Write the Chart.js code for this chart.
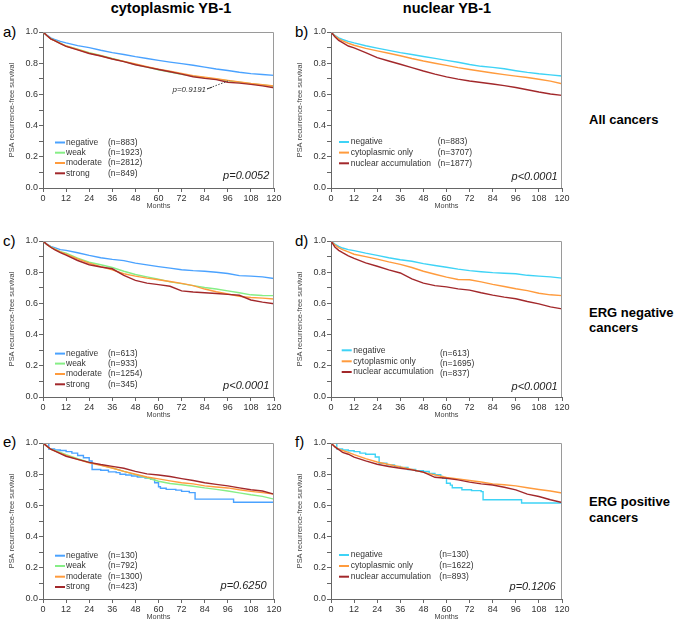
<!DOCTYPE html>
<html><head><meta charset="utf-8">
<script src="https://cdn.jsdelivr.net/npm/chart.js@4.4.1/dist/chart.umd.min.js"></script>
<style>
body{margin:0;width:675px;height:622px;background:#fff;position:relative;overflow:hidden;font-family:"Liberation Sans",Arial,Helvetica,sans-serif;}
canvas{position:absolute;}
.t{position:absolute;white-space:nowrap;color:#000;line-height:1;}
.h{font-weight:bold;font-size:14.5px;width:200px;text-align:center;}
.r{font-weight:bold;font-size:13px;left:589px;}
.l{font-size:15px;}
</style></head><body>
<div class="t h" style="left:71px;top:1px">cytoplasmic YB-1</div>
<div class="t h" style="left:347px;top:1px">nuclear YB-1</div>
<div class="t r" style="top:112.7px">All cancers</div>
<div class="t r" style="top:306.4px">ERG negative</div>
<div class="t r" style="top:320.5px">cancers</div>
<div class="t r" style="top:495.3px">ERG positive</div>
<div class="t r" style="top:510.7px">cancers</div>
<div class="t l" style="left:3px;top:23.5px">a)</div>
<div class="t l" style="left:295px;top:23.5px">b)</div>
<div class="t l" style="left:3px;top:232.5px">c)</div>
<div class="t l" style="left:295px;top:232.5px">d)</div>
<div class="t l" style="left:3px;top:434px">e)</div>
<div class="t l" style="left:295px;top:434px">f)</div>
<canvas id="ca" width="290" height="194" style="left:0;top:20px"></canvas>
<canvas id="cb" width="290" height="194" style="left:288px;top:20px"></canvas>
<canvas id="cc" width="290" height="194" style="left:0;top:229px"></canvas>
<canvas id="cd" width="290" height="194" style="left:288px;top:229px"></canvas>
<canvas id="ce" width="290" height="194" style="left:0;top:431px"></canvas>
<canvas id="cf" width="290" height="194" style="left:288px;top:431px"></canvas>
<script>
// ---------- DATA ----------
const months = [0,2,4,6,9,12,18,24,30,36,42,48,54,60,66,72,78,84,90,96,102,108,114,120];
const xTickLabels = ['0','12','24','36','48','60','72','84','96','108','120'];
const yTickLabels = ['0.0','0.2','0.4','0.6','0.8','1.0'];
const cytoCategories = ['negative','weak','moderate','strong'];
const nucCategories = ['negative','cytoplasmic only','nuclear accumulation'];

// a) all cancers, cytoplasmic YB-1
const aNeg    = [1,.98,.962,.952,.94,.93,.913,.90,.883,.868,.856,.842,.83,.818,.807,.797,.787,.775,.763,.753,.742,.733,.728,.722];
const aWeak   = [1,.978,.957,.947,.928,.91,.89,.868,.85,.83,.812,.792,.775,.758,.743,.728,.717,.707,.698,.688,.678,.668,.66,.652];
const aMod    = [1,.978,.956,.945,.927,.91,.888,.865,.848,.828,.812,.795,.778,.762,.748,.735,.72,.71,.70,.69,.68,.67,.662,.654];
const aStrong = [1,.978,.956,.944,.925,.908,.885,.862,.846,.827,.81,.79,.775,.76,.745,.73,.713,.703,.695,.678,.672,.664,.655,.643];
const aN = [883,1923,2812,849];
const aP = 'p=0.0052';
const aNote = 'p=0.9191';

// b) all cancers, nuclear YB-1
const bNeg  = [1,.978,.963,.952,.94,.93,.912,.897,.882,.868,.856,.843,.831,.818,.806,.792,.78,.773,.764,.752,.741,.732,.725,.718];
const bCyto = [1,.975,.956,.943,.928,.915,.895,.879,.864,.848,.83,.814,.80,.786,.772,.76,.748,.737,.727,.717,.708,.697,.685,.668];
const bNuc  = [1,.97,.946,.932,.91,.898,.868,.836,.814,.793,.772,.75,.73,.712,.698,.686,.676,.667,.656,.644,.63,.615,.603,.594];
const bN = [883,3707,1877];
const bP = 'p<0.0001';

// c) ERG negative, cytoplasmic YB-1
const cNeg    = [1,.98,.965,.958,.945,.94,.925,.908,.893,.882,.874,.858,.847,.836,.826,.816,.81,.806,.80,.792,.778,.775,.77,.76];
const cWeak   = [1,.978,.962,.95,.932,.922,.89,.864,.848,.83,.806,.785,.77,.755,.738,.727,.714,.702,.692,.68,.668,.655,.651,.65];
const cMod    = [1,.978,.96,.948,.93,.915,.885,.858,.836,.815,.79,.775,.762,.752,.74,.728,.714,.692,.675,.66,.645,.638,.634,.628];
const cStrong = [1,.978,.96,.945,.925,.91,.875,.848,.833,.822,.78,.748,.73,.72,.71,.68,.673,.668,.663,.658,.652,.622,.608,.598];
const cN = [613,933,1254,345];
const cP = 'p<0.0001';

// d) ERG negative, nuclear YB-1
const dNeg  = [1,.98,.966,.955,.945,.938,.922,.908,.893,.88,.87,.855,.843,.832,.82,.81,.803,.797,.793,.79,.78,.775,.77,.762];
const dCyto = [1,.975,.958,.945,.93,.915,.90,.884,.866,.85,.83,.806,.787,.768,.753,.752,.738,.722,.708,.694,.682,.665,.655,.65];
const dNuc  = [1,.962,.94,.925,.905,.888,.86,.838,.815,.795,.757,.73,.714,.706,.693,.685,.668,.653,.64,.63,.612,.597,.578,.565];
const dN = [613,1695,837];
const dP = 'p<0.0001';

// e) ERG positive, cytoplasmic YB-1 (negative group: event times)
const eNegMonths = [0,3,6,9,12,15,18,21,24,25.5,30,34,38,40,43,46,49,53,56,58,60,61,64,69,72,76,79,99,120];
const eNegSurv   = [1,.962,.955,.952,.945,.935,.92,.905,.885,.83,.825,.815,.81,.80,.795,.788,.782,.776,.768,.745,.72,.71,.703,.698,.69,.682,.64,.62,.62];
const eWeak   = [1,.98,.96,.952,.94,.925,.90,.876,.858,.84,.818,.797,.777,.755,.74,.732,.723,.712,.703,.692,.68,.668,.658,.64];
const eMod    = [1,.98,.96,.95,.935,.92,.895,.873,.857,.84,.818,.80,.782,.77,.757,.745,.738,.725,.718,.712,.70,.69,.682,.672];
const eStrong = [1,.98,.96,.95,.932,.915,.895,.876,.862,.85,.838,.818,.802,.795,.785,.772,.76,.745,.735,.725,.712,.70,.692,.672];
const eN = [130,792,1300,423];
const eP = 'p=0.6250';

// f) ERG positive, nuclear YB-1 (negative group: event times)
const fNegMonths = [0,3,6,9,12,15,18,23,25,29,33,36,40,44,48,51,54,57,58,60,62,63,68,73,78,79,99,120];
const fNegSurv   = [1,.962,.955,.95,.945,.935,.928,.91,.87,.86,.85,.843,.83,.822,.817,.805,.796,.785,.774,.742,.73,.713,.70,.695,.688,.636,.615,.615];
const fCyto = [1,.978,.96,.952,.94,.925,.90,.878,.862,.847,.83,.812,.796,.779,.77,.76,.75,.738,.732,.725,.713,.702,.692,.679];
const fNuc  = [1,.975,.958,.94,.928,.91,.885,.864,.849,.838,.828,.813,.78,.774,.764,.749,.738,.731,.716,.70,.672,.657,.636,.618];
const fN = [130,1622,893];
const fP = 'p=0.1206';

// ---------- STYLE / LAYOUT ----------
Chart.defaults.font.family = '"Liberation Sans", Arial, Helvetica, sans-serif';
Chart.defaults.color = '#333';
const COL = {blue:'#4aa2ff', cyan:'#3ed3f6', green:'#86ee86', orange:'#ff9b3d', red:'#a2282b'};
const cytoColors = [COL.blue, COL.green, COL.orange, COL.red];
const nucColors = [COL.cyan, COL.orange, COL.red];

function pts(xs, ys){ return xs.map((x,i)=>({x:x, y:ys[i]})); }

const panels = [
 {id:'ca', cats:cytoCategories, colors:cytoColors, series:[pts(months,aNeg),pts(months,aWeak),pts(months,aMod),pts(months,aStrong)], stepped:[false,false,false,false], n:aN, p:aP,
  leg:{line:[12,22], label:23, nx:65, rows:[-45.5,-35.3,-25,-14.7], pRight:-4.7, pY:-12.3},
  note:{text:aNote, x:84.7, y:0.629, toX:97, toY:0.69}},
 {id:'cb', cats:nucCategories, colors:nucColors, series:[pts(months,bNeg),pts(months,bCyto),pts(months,bNuc)], stepped:[false,false,false], n:bN, p:bP,
  leg:{line:[8,18], label:19.7, nx:106.7, rows:[-46,-35.4,-24.7], pRight:-4.3, pY:-11}},
 {id:'cc', cats:cytoCategories, colors:cytoColors, series:[pts(months,cNeg),pts(months,cWeak),pts(months,cMod),pts(months,cStrong)], stepped:[false,false,false,false], n:cN, p:cP,
  leg:{line:[12,22], label:23, nx:65, rows:[-43.4,-33.4,-23,-12.7], pRight:-4.7, pY:-11.4}},
 {id:'cd', cats:nucCategories, colors:nucColors, series:[pts(months,dNeg),pts(months,dCyto),pts(months,dNuc)], stepped:[false,false,false], n:dN, p:dP,
  leg:{line:[10.7,20.7], label:22.3, nx:109, rows:[-46.7,-35.7,-25], nRows:[-43.4,-33.4,-23.4], pRight:-4.3, pY:-10}},
 {id:'ce', cats:cytoCategories, colors:cytoColors, series:[pts(eNegMonths,eNegSurv),pts(months,eWeak),pts(months,eMod),pts(months,eStrong)], stepped:[true,false,false,false], n:eN, p:eP,
  leg:{line:[12,22], label:23, nx:65, rows:[-43.3,-33,-22.3,-12], pRight:-7.3, pY:-13.3}},
 {id:'cf', cats:nucCategories, colors:nucColors, series:[pts(fNegMonths,fNegSurv),pts(months,fCyto),pts(months,fNuc)], stepped:[true,false,false], n:fN, p:fP,
  leg:{line:[8,18], label:19.7, nx:108.3, rows:[-44,-33,-22.3], pRight:-6.3, pY:-11.6}}
];

const decor = {
  id:'decor',
  afterDraw(chart){
    const P = chart.config.options.plugins.decor.panel;
    const ctx = chart.ctx, ca = chart.chartArea;
    ctx.save();
    // frame top / right
    ctx.strokeStyle = '#9a9a9a'; ctx.lineWidth = 1;
    ctx.beginPath();
    ctx.moveTo(ca.left, ca.top+0.5); ctx.lineTo(ca.right-0.5, ca.top+0.5); ctx.lineTo(ca.right-0.5, ca.bottom);
    ctx.stroke();
    // legend
    const L = P.leg;
    ctx.font = '8.5px "Liberation Sans", Arial, sans-serif';
    ctx.textBaseline = 'middle'; ctx.textAlign = 'left';
    P.cats.forEach((c,i)=>{
      const y = ca.bottom + L.rows[i];
      ctx.strokeStyle = P.colors[i]; ctx.lineWidth = 2;
      ctx.beginPath(); ctx.moveTo(ca.left+L.line[0], y); ctx.lineTo(ca.left+L.line[1], y); ctx.stroke();
      ctx.fillStyle = '#333';
      ctx.fillText(c, ca.left+L.label, y);
      const yn = ca.bottom + (L.nRows ? L.nRows[i] : L.rows[i]);
      ctx.fillText('(n=' + P.n[i] + ')', ca.left+L.nx, yn);
    });
    // p value
    ctx.font = 'italic 11px "Liberation Sans", Arial, sans-serif';
    ctx.textAlign = 'right'; ctx.fillStyle = '#222';
    ctx.fillText(P.p, ca.right + L.pRight, ca.bottom + L.pY);
    // note
    if (P.note){
      const xs = chart.scales.x, ys = chart.scales.y;
      const tx = xs.getPixelForValue(P.note.x), ty = ys.getPixelForValue(P.note.y);
      ctx.font = 'italic 8px "Liberation Sans", Arial, sans-serif';
      ctx.fillStyle = '#333';
      ctx.fillText(P.note.text, tx, ty);
      const ex = xs.getPixelForValue(P.note.toX), ey = ys.getPixelForValue(P.note.toY);
      ctx.strokeStyle = '#444'; ctx.lineWidth = 1; ctx.setLineDash([1.5,1.5]);
      ctx.beginPath(); ctx.moveTo(tx+1, ty-1); ctx.lineTo(ex, ey); ctx.stroke();
      ctx.setLineDash([]);
      ctx.beginPath(); ctx.moveTo(tx+1, ty-1); ctx.lineTo(tx+6, ty-2.6); ctx.stroke();
    }
    ctx.restore();
  }
};

panels.forEach(P=>{
  new Chart(document.getElementById(P.id), {
    type:'line',
    data:{ datasets: P.series.map((s,i)=>({
      label:P.cats[i], data:s, borderColor:P.colors[i], backgroundColor:P.colors[i],
      borderWidth:1.4, pointRadius:0, fill:false, tension:0, stepped:P.stepped[i]
    })).reverse() },
    options:{
      responsive:false, animation:false, devicePixelRatio:1,
      layout:{padding:{left:0,right:16,top:12,bottom:0}},
      plugins:{legend:{display:false}, tooltip:{enabled:false}, decor:{panel:P}},
      scales:{
        x:{type:'linear', min:0, max:120, offset:false,
          afterFit:s=>{s.height=26;},
          grid:{display:true, drawOnChartArea:false, drawTicks:true, tickLength:4, color:'#666'},
          border:{display:true, color:'#666', width:1},
          ticks:{stepSize:12, autoSkip:false, maxRotation:0, padding:1, color:'#333', font:{size:9},
            callback:v=>xTickLabels[Math.round(v/12)]},
          title:{display:true, text:'Months', color:'#444', font:{size:7.3}, padding:{top:0,bottom:3.6}}
        },
        y:{type:'linear', min:0, max:1,
          afterFit:s=>{s.width=43;},
          grid:{display:true, drawOnChartArea:false, drawTicks:true, tickLength:4, color:'#666'},
          border:{display:true, color:'#666', width:1},
          ticks:{stepSize:0.1, autoSkip:false, padding:1, color:'#333', font:{size:9},
            callback:v=>{const i=Math.round(v*10); return i%2===0 ? yTickLabels[i/2] : '';}},
          title:{display:true, text:'PSA recurrence-free survival', color:'#444', font:{size:7.4}, padding:{top:8,bottom:0}}
        }
      }
    },
    plugins:[decor]
  });
});
</script>
</body></html>
